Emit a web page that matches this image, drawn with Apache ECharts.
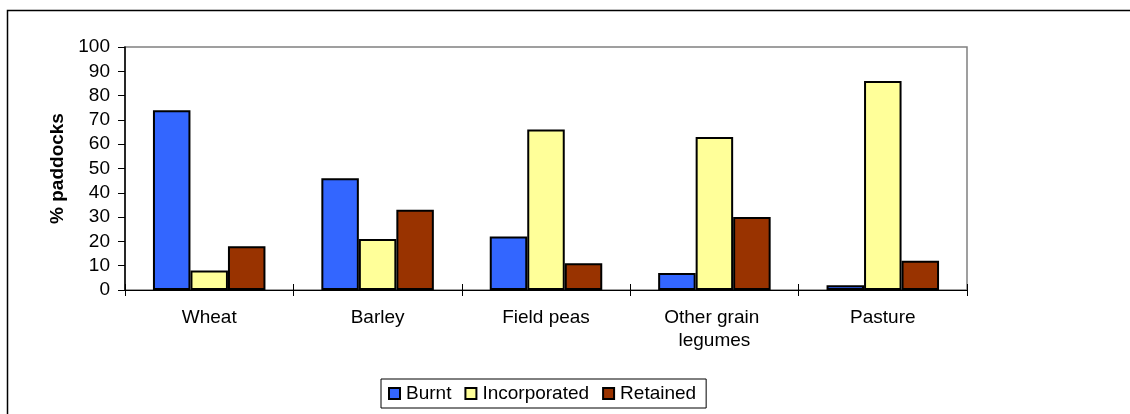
<!DOCTYPE html>
<html>
<head>
<meta charset="utf-8">
<script src="https://cdn.jsdelivr.net/npm/echarts@6/dist/echarts.min.js"></script>
<style>
  html, body { margin: 0; padding: 0; background: #fff; }
  #chart { width: 1130px; height: 414px; }
</style>
</head>
<body>
<div id="chart"></div>
<script>
// crop residue management by crop
var categories = ['Wheat', 'Barley', 'Field peas', 'Other grain legumes', 'Pasture'];
var burnt = [74, 46, 22, 7, 2];
var incorporated = [8, 21, 66, 63, 86];
var retained = [18, 33, 11, 30, 12];
var yTicks = { min: 0, max: 100, interval: 10 };

var FONT = '"Liberation Sans", Arial, sans-serif';

var chart = echarts.init(document.getElementById('chart'), null, { renderer: 'canvas' });

function barSeries(name, data, color) {
  return {
    name: name,
    type: 'bar',
    data: data,
    barWidth: 37.5,
    barGap: '0%',
    itemStyle: { color: color, borderColor: '#000', borderWidth: 2 },
    emphasis: { disabled: true }
  };
}

chart.setOption({
  animation: false,
  textStyle: { fontFamily: FONT },
  graphic: [{
    type: 'rect',
    shape: { x: 7.5, y: 10.5, width: 1300, height: 600 },
    style: { fill: 'none', stroke: '#000', lineWidth: 1.5 },
    silent: true
  }],
  grid: {
    left: 125, top: 47, right: 163, bottom: 124,
    show: true, borderColor: '#808080', borderWidth: 1.5, backgroundColor: 'transparent'
  },
  legend: {
    left: 381, top: 379,
    padding: [5, 10, 5, 7],
    borderColor: '#000', borderWidth: 1,
    itemWidth: 11, itemHeight: 11, itemGap: 13,
    icon: 'rect',
    textStyle: { fontSize: 19, color: '#000', fontFamily: FONT, padding: [0, 0, 0, 1] },
    data: ['Burnt', 'Incorporated', 'Retained']
  },
  xAxis: [{
    type: 'category',
    data: categories,
    axisLine: { lineStyle: { color: '#000', width: 1 } },
    axisTick: { show: true, inside: false, length: 6, lineStyle: { color: '#000' } },
    axisLabel: {
      interval: 0, color: '#000', fontSize: 19, margin: 16, lineHeight: 23,
      width: 130, overflow: 'break', fontFamily: FONT
    },
    splitLine: { show: false }
  }, {
    type: 'category',
    data: categories,
    position: 'bottom',
    axisLine: { show: false },
    axisTick: { show: true, inside: true, length: 6, lineStyle: { color: '#000' } },
    axisLabel: { show: false },
    splitLine: { show: false }
  }],
  yAxis: {
    type: 'value',
    min: yTicks.min, max: yTicks.max, interval: yTicks.interval,
    name: '% paddocks',
    nameLocation: 'middle',
    nameGap: 58,
    nameRotate: 90,
    nameTextStyle: { fontSize: 19, fontWeight: 'bold', color: '#000', fontFamily: FONT },
    axisLine: { show: true, lineStyle: { color: '#000', width: 1.5 } },
    axisTick: { show: true, inside: false, length: 7, lineStyle: { color: '#000' } },
    axisLabel: { color: '#000', fontSize: 19, margin: 15, fontFamily: FONT },
    splitLine: { show: false }
  },
  series: [
    barSeries('Burnt', burnt, '#3366FF'),
    barSeries('Incorporated', incorporated, '#FFFF99'),
    barSeries('Retained', retained, '#993300')
  ]
});
</script>
</body>
</html>
